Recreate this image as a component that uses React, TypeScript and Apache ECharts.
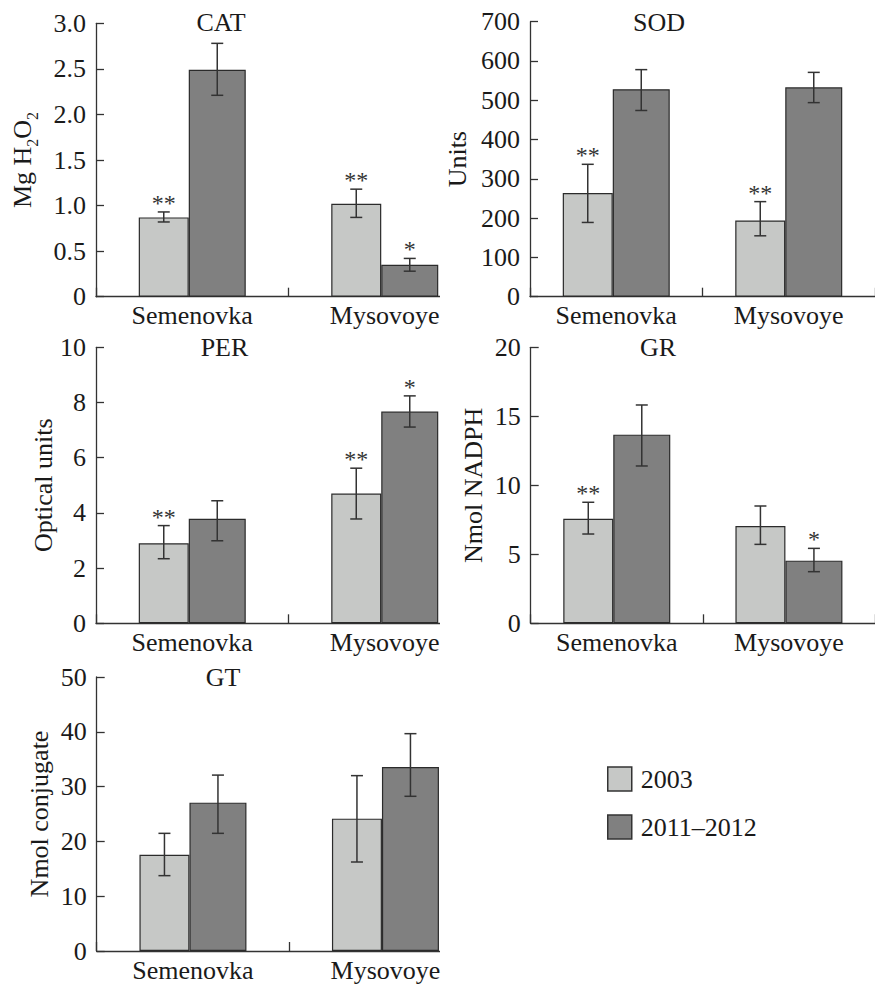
import React, { useEffect, useRef } from 'react';
import * as echarts from 'echarts';

// ---------------- data ----------------
const categories = ['Semenovka', 'Mysovoye'];
const seriesNames = ['2003', '2011–2012'];
const panelTitles = ['CAT', 'SOD', 'PER', 'GR', 'GT'];
const yAxisNames = ['Mg H{sub|2}O{sub|2}', 'Units', 'Optical units', 'Nmol NADPH', 'Nmol conjugate'];
const yMax = [3, 700, 10, 20, 50];
const yInterval = [0.5, 100, 2, 5, 10];

// means [panel][category]
const mean2003 = [[0.87, 1.02], [264, 194], [2.9, 4.7], [7.58, 7.05], [17.57, 24.15]];
const mean2011 = [[2.49, 0.35], [528, 533], [3.79, 7.67], [13.67, 4.54], [27.07, 33.58]];
// error bar ends [panel][category]
const low2003 = [[0.82, 0.87], [189, 155], [2.34, 3.78], [6.47, 5.72], [13.75, 16.24]];
const high2003 = [[0.93, 1.18], [337, 242], [3.54, 5.62], [8.77, 8.5], [21.47, 32.0]];
const low2011 = [[2.21, 0.28], [474, 494], [2.99, 7.11], [11.4, 3.74], [21.47, 28.23]];
const high2011 = [[2.78, 0.42], [578, 571], [4.44, 8.24], [15.82, 5.43], [32.1, 39.66]];
// significance marks [panel][category]
const stars2003 = [['**', '**'], ['**', '**'], ['**', '**'], ['**', ''], ['', '']];
const stars2011 = [['', '*'], ['', ''], ['', '*'], ['', '*'], ['', '']];

// ---------------- layout / style ----------------
const FONT = "'Liberation Serif', 'Times New Roman', serif";
const TEXT = '#1a1a1a';
const AXIS = '#333333';
const COLORS = ['#c6c8c6', '#808080'];
const BAR_W = [50, 57];
const OFFSETS = [-28.5, 25];

const grids = [
  { left: 96, top: 23.3, width: 385, height: 273.4 },
  { left: 530, top: 21.7, width: 387, height: 275 },
  { left: 96, top: 347.3, width: 385, height: 276 },
  { left: 530.7, top: 347.3, width: 387, height: 276 },
  { left: 96.7, top: 677, width: 385, height: 274 },
];
const nameGaps = [61, 60, 30, 44, 44];
const titlePos = [
  [221, 22],
  [659, 22],
  [224.5, 347.5],
  [658, 347.5],
  [223, 677.5],
];

export default function App() {
  const ref = useRef<HTMLDivElement>(null);

  useEffect(() => {
    if (!ref.current) return;
    const chart = echarts.init(ref.current, undefined, { renderer: 'svg' });

    const means = [mean2003, mean2011];
    const lows = [low2003, low2011];
    const highs = [high2003, high2011];
    const stars = [stars2003, stars2011];

    const series: any[] = [];
    grids.forEach((_, i) => {
      [0, 1].forEach((s) => {
        series.push({
          type: 'bar',
          name: seriesNames[s],
          xAxisIndex: i,
          yAxisIndex: i,
          data: means[s][i],
          barWidth: BAR_W[s],
          barGap: '0%',
          itemStyle: { color: COLORS[s], borderColor: '#2b2b2b', borderWidth: 1.2 },
          z: 2,
        });
      });
    });
    grids.forEach((_, i) => {
      [0, 1].forEach((s) => {
        series.push({
          type: 'custom',
          xAxisIndex: i,
          yAxisIndex: i,
          silent: true,
          z: 5,
          data: categories.map((_c, k) => [k, lows[s][i][k], highs[s][i][k]]),
          encode: { x: 0, y: [1, 2] },
          renderItem: (params: any, api: any) => {
            const k = api.value(0);
            const top = api.coord([k, api.value(2)]);
            const bot = api.coord([k, api.value(1)]);
            const x = top[0] + OFFSETS[s];
            const st = { stroke: '#333', lineWidth: 1.5 };
            const children: any[] = [
              { type: 'line', shape: { x1: x, y1: top[1], x2: x, y2: bot[1] }, style: st },
              { type: 'line', shape: { x1: x - 6, y1: top[1], x2: x + 6, y2: top[1] }, style: st },
              { type: 'line', shape: { x1: x - 6, y1: bot[1], x2: x + 6, y2: bot[1] }, style: st },
            ];
            const mark = stars[s][i][params.dataIndex];
            if (mark) {
              children.push({
                type: 'text',
                x,
                y: top[1] - 9,
                style: {
                  text: mark,
                  fontSize: 24,
                  fontFamily: FONT,
                  fill: '#333',
                  align: 'center',
                  verticalAlign: 'middle',
                },
              });
            }
            return { type: 'group', children };
          },
        });
      });
    });

    const graphic: any[] = [];
    panelTitles.forEach((t, i) => {
      graphic.push({
        type: 'text',
        x: titlePos[i][0],
        y: titlePos[i][1],
        z: 50,
        style: {
          text: t,
          fontSize: 26,
          fontFamily: FONT,
          fill: TEXT,
          align: 'center',
          verticalAlign: 'middle',
        },
      });
    });
    // the left panels are cut at the right edge of their last bar
    [0, 2, 4].forEach((i) => {
      const g = grids[i];
      graphic.push({
        type: 'rect',
        z: 100,
        shape: { x: 440, y: g.top + g.height - 12, width: 46, height: 16 },
        style: { fill: '#ffffff' },
      });
    });

    const option: any = {
      animation: false,
      textStyle: { fontFamily: FONT },
      grid: grids.map((g) => ({ ...g, containLabel: false })),
      xAxis: grids.map((_, i) => ({
        type: 'category',
        gridIndex: i,
        data: categories,
        axisLine: { show: true, lineStyle: { color: AXIS, width: 1.3 } },
        axisTick: { show: true, inside: true, length: 9, lineStyle: { color: AXIS, width: 1.3 } },
        axisLabel: { interval: 0, fontSize: 26, fontFamily: FONT, color: TEXT, margin: 6 },
        splitLine: { show: false },
      })),
      yAxis: grids.map((_, i) => ({
        type: 'value',
        gridIndex: i,
        min: 0,
        max: yMax[i],
        interval: yInterval[i],
        name: yAxisNames[i],
        nameLocation: 'middle',
        nameGap: nameGaps[i],
        nameTextStyle: {
          fontSize: 26,
          fontFamily: FONT,
          color: TEXT,
          rich: {
            sub: {
              fontSize: 16,
              fontFamily: FONT,
              color: TEXT,
              lineHeight: 16,
              padding: [15, 0, 0, 0],
              verticalAlign: 'top',
            },
          },
        },
        axisLine: { show: true, lineStyle: { color: AXIS, width: 1.3 } },
        axisTick: { show: true, inside: true, length: 8, lineStyle: { color: AXIS, width: 1.3 } },
        axisLabel: {
          fontSize: 26,
          fontFamily: FONT,
          color: TEXT,
          margin: 10,
          formatter: (v: number) => (i === 0 ? (v === 0 ? '0' : v.toFixed(1)) : String(v)),
        },
        splitLine: { show: false },
      })),
      legend: {
        data: seriesNames,
        orient: 'vertical',
        left: 607,
        top: 766,
        padding: 0,
        itemWidth: 24,
        itemHeight: 24,
        itemGap: 22,
        icon: 'rect',
        selectedMode: false,
        textStyle: { fontSize: 26, fontFamily: FONT, color: TEXT, padding: [0, 0, 0, 4] },
        itemStyle: { borderColor: '#333', borderWidth: 1.5 },
      },
      series,
      graphic,
    };

    chart.setOption(option);
    return () => chart.dispose();
  }, []);

  return (
    <div
      ref={ref}
      style={{ position: 'fixed', left: 0, top: 0, width: 875, height: 988, background: '#ffffff' }}
    />
  );
}
